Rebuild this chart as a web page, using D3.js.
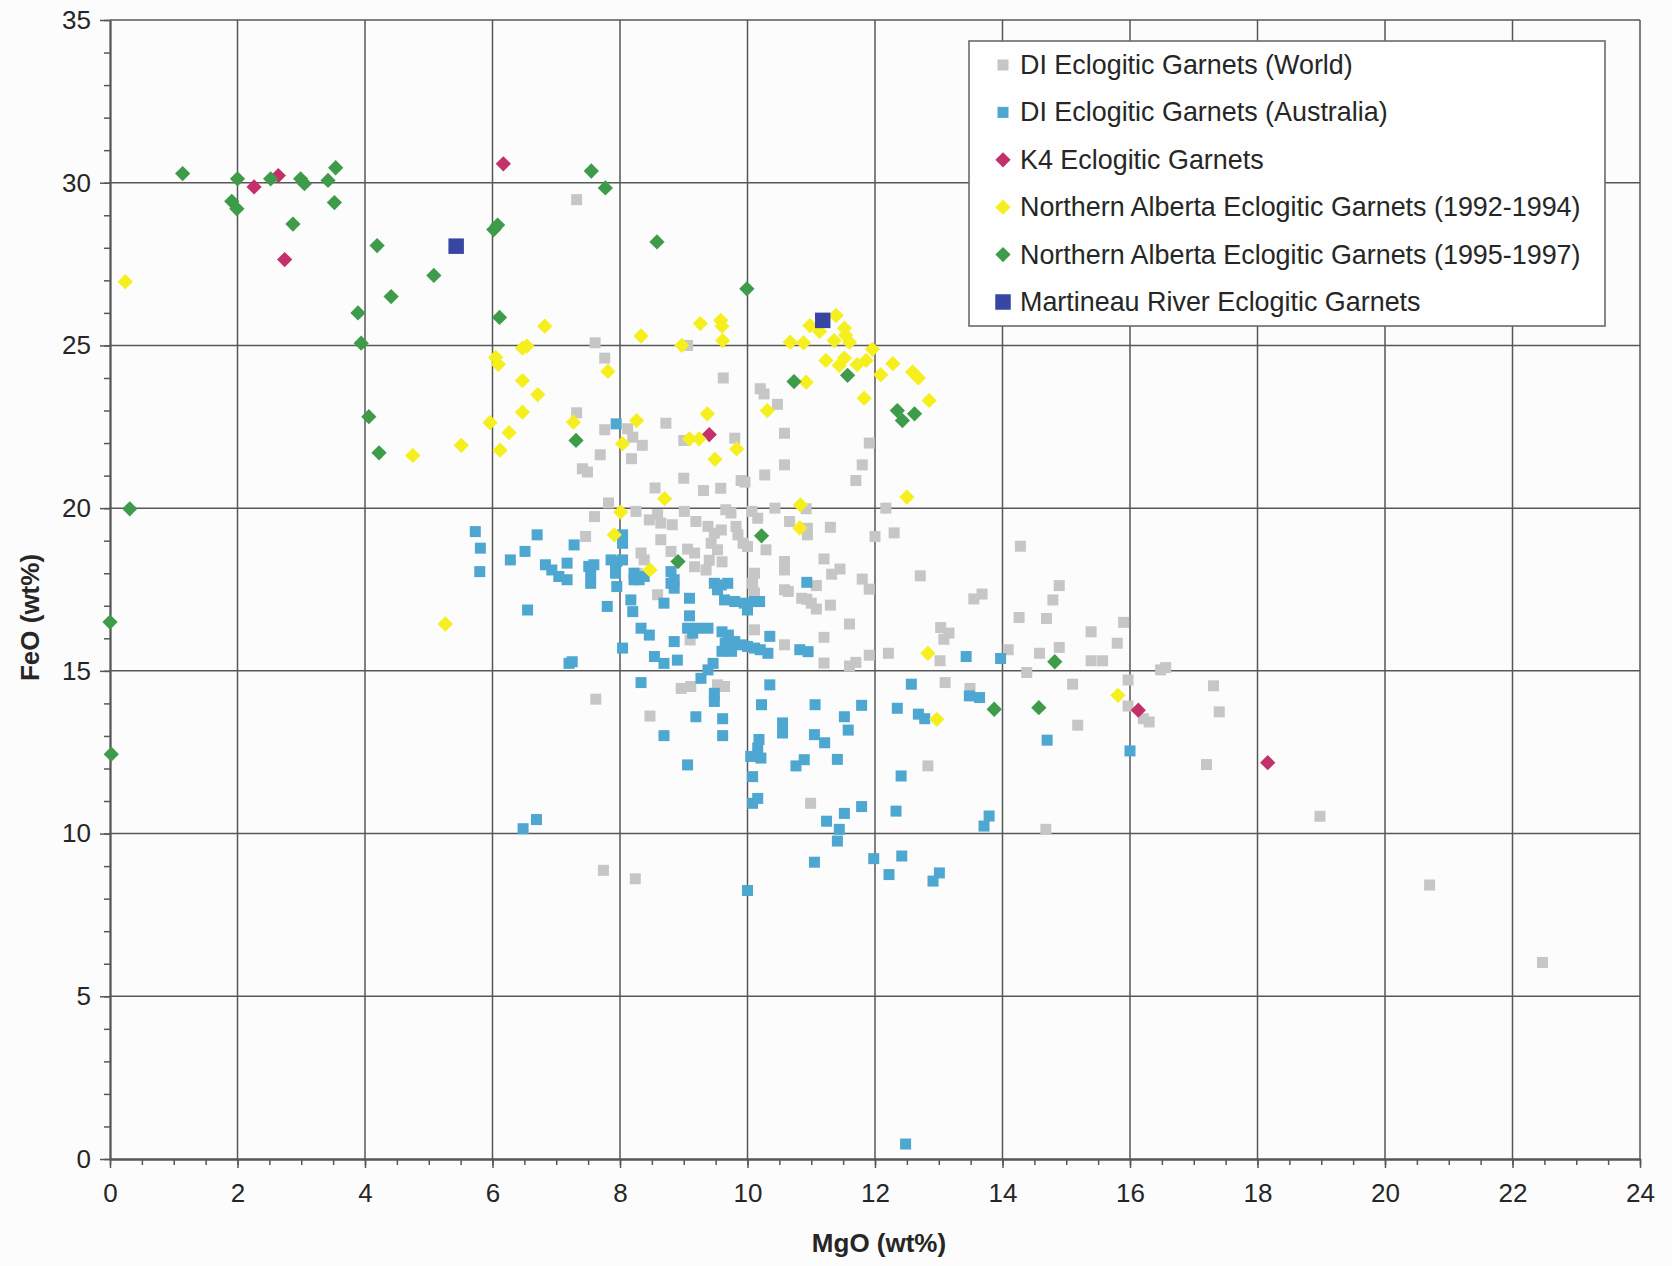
<!DOCTYPE html>
<html>
<head>
<meta charset="utf-8">
<script src="https://cdn.jsdelivr.net/npm/d3@7"></script>
<style>
  html, body { margin: 0; padding: 0; background: #fbfcfb; }
  svg { display: block; font-family: "Liberation Sans", Arial, sans-serif; }
</style>
</head>
<body>
<svg id="chart" width="1672" height="1266"></svg>
<script>
// Garnet compositions, [MgO wt%, FeO wt%]
const diWorld = [
  [7.32,29.48],[7.61,25.08],[7.76,24.61],[9.06,25.0],[9.62,24.0],
  [10.2,23.67],[10.26,23.51],[10.47,23.19],[7.32,22.93],[7.76,22.41],[8.12,22.44],[8.2,22.18],
  [8.35,21.93],[7.69,21.64],[8.18,21.52],[7.41,21.21],[7.49,21.11],[8.72,22.61],[9.0,22.08],
  [9.8,22.15],[10.58,22.3],[10.58,21.33],[10.27,21.02],[9.9,20.85],[9.96,20.8],[9.58,20.61],
  [9.31,20.54],[9.0,20.92],[8.55,20.62],[7.82,20.16],[10.92,19.98],[11.91,22.0],[11.8,21.33],
  [11.7,20.85],[12.17,20.0],[11.3,19.41],[12.0,19.13],[12.3,19.24],[10.94,19.38],[11.2,18.44],
  [11.45,18.13],[11.32,17.97],[11.08,17.62],[11.8,17.82],[11.91,17.51],[12.71,17.92],[10.93,17.2],
  [11.08,16.9],[11.3,17.02],[11.6,16.44],[11.2,16.03],[14.28,18.83],[13.55,17.21],[13.68,17.36],
  [14.89,17.62],[14.79,17.18],[14.26,16.64],[14.69,16.61],[13.03,16.33],[13.16,16.16],[13.08,15.97],
  [15.39,16.2],[15.8,15.85],[15.9,16.49],[14.89,15.72],[14.58,15.54],[15.39,15.31],[15.57,15.31],
  [14.09,15.65],[13.02,15.31],[12.21,15.54],[11.91,15.48],[11.7,15.26],[11.6,15.15],[11.2,15.24],
  [16.56,15.1],[16.48,15.03],[14.38,14.95],[15.97,14.72],[15.1,14.59],[13.1,14.64],[13.49,14.46],
  [15.97,13.92],[16.21,13.53],[16.3,13.43],[15.18,13.33],[12.83,12.08],[10.99,10.93],[14.68,10.13],
  [17.31,14.54],[17.4,13.74],[17.2,12.12],[18.98,10.53],[20.7,8.42],[22.47,6.04],
  [7.6,19.74],[8.25,19.9],[8.46,19.64],[8.64,19.54],[8.82,19.49],[8.59,19.8],[9.01,19.9],
  [9.19,19.59],[9.66,19.95],[9.74,19.85],[10.07,19.9],[10.16,19.69],[10.43,20.0],[10.66,19.59],
  [10.94,19.18],[7.46,19.13],[8.64,19.03],[8.33,18.62],[8.38,18.41],[8.8,18.67],[9.06,18.74],
  [9.17,18.62],[9.38,19.44],[9.48,19.23],[9.59,19.33],[9.43,18.92],[9.53,18.72],[9.82,19.44],
  [9.85,19.18],[9.93,18.92],[10.0,18.82],[10.29,18.72],[10.58,18.36],[10.58,18.1],[10.64,17.44],
  [10.11,18.0],[10.08,17.69],[10.11,17.39],[9.4,18.4],[9.35,18.1],[9.6,18.35],[9.17,18.2],
  [8.27,18.0],[8.59,17.34],[9.1,15.95],[10.58,15.8],[10.85,17.23],[11.0,17.08],[10.58,17.49],
  [10.11,16.26],[8.96,14.46],[9.11,14.52],[9.53,14.57],[9.64,14.52],[7.62,14.13],[8.47,13.61],
  [7.74,8.87],[8.24,8.61]
];

const diAustralia = [
  [7.94,22.59],[8.04,19.18],[8.04,18.92],[5.73,19.28],[5.81,18.77],[5.8,18.05],[6.55,16.87],
  [6.7,19.18],[6.51,18.67],[6.28,18.41],[7.28,18.87],[6.83,18.26],[6.93,18.1],[7.04,17.9],
  [7.17,17.8],[7.17,18.31],[7.51,18.21],[7.54,18.0],[7.54,17.69],[7.59,18.26],[7.86,18.41],
  [7.95,18.36],[8.04,18.41],[7.93,18.1],[7.93,18.0],[7.95,17.59],[8.22,18.0],[8.3,17.8],
  [8.22,17.8],[8.38,17.9],[8.8,18.05],[8.85,17.8],[8.85,17.54],[8.8,17.69],[8.69,17.08],
  [9.09,17.23],[9.09,16.69],[9.06,16.31],[9.22,16.31],[9.38,16.31],[9.14,16.16],[9.48,17.69],
  [9.59,17.64],[9.69,17.69],[9.53,17.49],[9.64,17.18],[9.8,17.13],[9.95,17.08],[10.11,17.13],
  [10.19,17.13],[10.0,16.87],[9.6,16.2],[9.7,16.1],[9.8,15.9],[9.65,15.85],[9.75,15.7],
  [9.6,15.6],[9.75,15.6],[9.9,15.8],[10.0,15.75],[10.11,15.7],[10.2,15.65],[10.35,16.06],
  [10.32,15.54],[10.82,15.65],[10.95,15.59],[10.93,17.72],[8.85,15.9],[8.54,15.44],[8.69,15.23],
  [8.9,15.33],[8.33,16.31],[8.46,16.1],[8.17,17.18],[8.2,16.82],[7.8,16.98],[8.04,15.7],
  [8.33,14.64],[9.27,14.77],[9.38,15.03],[9.46,15.23],[9.48,14.31],[9.48,14.06],[10.35,14.57],
  [10.22,13.96],[11.06,13.96],[7.2,15.23],[7.25,15.28],[9.19,13.59],[9.61,13.53],[9.61,13.01],
  [8.69,13.01],[9.06,12.11],[10.55,13.4],[10.55,13.09],[11.05,13.04],[10.18,12.89],[10.16,12.63],
  [10.05,12.37],[10.21,12.32],[10.08,11.75],[10.16,11.08],[10.08,10.93],[10.76,12.08],[10.89,12.27],
  [6.69,10.43],[6.48,10.15],[10.0,8.25],[11.05,9.12],[12.57,14.59],[13.48,14.23],[13.64,14.18],
  [12.68,13.67],[12.78,13.53],[12.35,13.85],[11.79,13.94],[11.52,13.59],[11.58,13.18],[11.21,12.79],
  [11.41,12.28],[12.41,11.77],[11.79,10.83],[11.52,10.62],[12.33,10.69],[11.24,10.38],[11.44,10.13],
  [11.41,9.77],[13.79,10.54],[13.71,10.23],[11.98,9.23],[12.42,9.31],[12.22,8.74],[13.01,8.79],
  [12.91,8.54],[14.7,12.87],[16.0,12.54],[13.43,15.44],[13.97,15.38],[12.48,0.46]
];

const k4 = [
  [2.26,29.87],[2.64,30.22],[2.74,27.64],[6.17,30.58],[9.4,22.26],[16.13,13.79],[18.16,12.18]
];

const naEarly = [
  [0.24,26.96],[4.75,21.62],[5.51,21.93],[5.96,22.63],[6.12,21.78],[6.26,22.32],[6.05,24.63],
  [6.09,24.42],[6.47,24.92],[6.54,24.98],[6.47,23.92],[6.71,23.49],[6.47,22.95],[6.82,25.59],
  [8.33,25.29],[9.26,25.67],[9.58,25.77],[9.6,25.59],[9.61,25.15],[8.97,25.0],[7.81,24.2],
  [7.27,22.64],[8.26,22.69],[8.04,21.98],[9.37,22.9],[9.09,22.13],[9.24,22.13],[9.49,21.5],
  [9.83,21.82],[10.92,23.87],[10.31,23.0],[8.7,20.29],[8.01,19.88],[10.83,20.1],[10.82,19.39],
  [7.91,19.18],[8.47,18.1],[11.39,25.92],[10.98,25.61],[11.13,25.43],[10.67,25.1],[10.88,25.08],
  [11.52,25.53],[11.54,25.31],[11.36,25.15],[11.6,25.1],[11.96,24.88],[11.23,24.54],[11.52,24.61],
  [11.44,24.39],[11.72,24.41],[11.86,24.54],[12.09,24.1],[12.28,24.44],[12.59,24.18],[12.68,24.0],
  [11.83,23.38],[12.85,23.31],[12.5,20.34],[12.83,15.54],[12.97,13.51],[15.81,14.25],[5.26,16.44]
];

const naLate = [
  [1.14,30.28],[2.0,30.12],[1.91,29.43],[1.99,29.2],[2.52,30.12],[2.99,30.12],[3.05,29.97],
  [3.42,30.07],[3.54,30.46],[3.52,29.39],[2.87,28.73],[4.19,28.07],[4.41,26.5],[5.08,27.15],
  [3.89,26.0],[3.94,25.07],[6.02,28.56],[6.08,28.7],[6.11,25.86],[7.55,30.36],[7.77,29.84],
  [8.58,28.18],[9.99,26.74],[4.06,22.81],[4.22,21.7],[0.31,19.98],[0.0,16.5],[0.02,12.44],
  [7.31,22.08],[10.73,23.89],[11.57,24.08],[12.35,23.0],[12.43,22.69],[12.62,22.9],[8.91,18.36],
  [10.22,19.15],[14.82,15.28],[13.87,13.82],[14.57,13.87]
];

const martineau = [[5.43,28.05],[11.18,25.77]];

const seriesNames = [
  "DI Eclogitic Garnets (World)",
  "DI Eclogitic Garnets (Australia)",
  "K4 Eclogitic Garnets",
  "Northern Alberta Eclogitic Garnets (1992-1994)",
  "Northern Alberta Eclogitic Garnets (1995-1997)",
  "Martineau River Eclogitic Garnets"
];

const xTicks = [0, 2, 4, 6, 8, 10, 12, 14, 16, 18, 20, 22, 24];
const yTicks = [0, 5, 10, 15, 20, 25, 30, 35];

const series = [
  { name: seriesNames[0], data: diWorld,     shape: "square",  size: 11,   color: "#c6c6c6" },
  { name: seriesNames[1], data: diAustralia, shape: "square",  size: 11,   color: "#4ea7d1" },
  { name: seriesNames[2], data: k4,          shape: "diamond", size: 10.8, color: "#c4306c" },
  { name: seriesNames[3], data: naEarly,     shape: "diamond", size: 10.8, color: "#f6ef1e" },
  { name: seriesNames[4], data: naLate,      shape: "diamond", size: 10.8, color: "#3e9b49" },
  { name: seriesNames[5], data: martineau,   shape: "square",  size: 15.5, color: "#3846a2" }
];

const svg = d3.select("#chart");
const plotLeft = 110, plotRight = 1640, plotTop = 20, plotBottom = 1159;

const x = d3.scaleLinear().domain([0, 24]).range([plotLeft, plotRight]);
const y = d3.scaleLinear().domain([0, 35]).range([plotBottom, plotTop]);

const gridColor = "#575757";
const textColor = "#262626";

// grid
const grid = svg.append("g");
grid.selectAll("line.v").data(xTicks.filter(d => d > 0)).join("line")
  .attr("x1", d => x(d)).attr("x2", d => x(d))
  .attr("y1", y(0)).attr("y2", y(35))
  .attr("stroke", gridColor).attr("stroke-width", 1.5);
grid.selectAll("line.h").data(yTicks.filter(d => d > 0)).join("line")
  .attr("x1", x(0)).attr("x2", x(24))
  .attr("y1", d => y(d)).attr("y2", d => y(d))
  .attr("stroke", gridColor).attr("stroke-width", 1.5);

// axes: minor and major ticks
function styleAxis(g) {
  g.select(".domain").attr("stroke", gridColor).attr("stroke-width", 1.8);
  g.selectAll(".tick line").attr("stroke", gridColor).attr("stroke-width", 1.5);
  g.selectAll("text").attr("fill", textColor).attr("font-size", 26)
    .attr("font-family", "'Liberation Sans', Arial, sans-serif");
}

const xMinor = svg.append("g").attr("transform", `translate(0,${plotBottom})`)
  .call(d3.axisBottom(x).tickValues(d3.range(0, 24.01, 0.5)).tickSize(6).tickFormat("").tickSizeOuter(0));
styleAxis(xMinor);
const xMajor = svg.append("g").attr("transform", `translate(0,${plotBottom})`)
  .call(d3.axisBottom(x).tickValues(xTicks).tickSize(9).tickPadding(16).tickFormat(d3.format("d")).tickSizeOuter(0));
styleAxis(xMajor);

const yMinor = svg.append("g").attr("transform", `translate(${plotLeft},0)`)
  .call(d3.axisLeft(y).tickValues(d3.range(0, 35.01, 1)).tickSize(6).tickFormat("").tickSizeOuter(0));
styleAxis(yMinor);
const yMajor = svg.append("g").attr("transform", `translate(${plotLeft},0)`)
  .call(d3.axisLeft(y).tickValues(yTicks).tickSize(10).tickPadding(9).tickFormat(d3.format("d")).tickSizeOuter(0));
styleAxis(yMajor);

// axis titles
svg.append("text")
  .attr("x", (x(0) + x(24)) / 2 + 4).attr("y", 1252)
  .attr("text-anchor", "middle").attr("font-weight", "bold").attr("font-size", 26)
  .attr("fill", textColor).text("MgO (wt%)");
svg.append("text")
  .attr("transform", `translate(39,${(y(0) + y(35)) / 2 + 28}) rotate(-90)`)
  .attr("text-anchor", "middle").attr("font-weight", "bold").attr("font-size", 26)
  .attr("fill", textColor).text("FeO (wt%)");

// markers: squares, and squares turned 45° for diamonds
function marker(sel, s) {
  sel.attr("d", d3.symbol().type(d3.symbolSquare).size(s.size * s.size)());
}
function place(s, px, py) {
  return s.shape === "diamond"
    ? `translate(${px},${py}) rotate(45)`
    : `translate(${px},${py})`;
}

const plot = svg.append("g");
series.forEach(s => {
  plot.append("g").selectAll("path").data(s.data).join("path")
    .call(marker, s)
    .attr("transform", d => place(s, x(d[0]), y(d[1])))
    .attr("fill", s.color);
});

// legend
const lg = svg.append("g");
lg.append("rect")
  .attr("x", 969).attr("y", 41).attr("width", 636).attr("height", 285)
  .attr("fill", "#fdfefd").attr("stroke", "#6a6a6a").attr("stroke-width", 1.6);
series.forEach((s, i) => {
  const cy = 65 + i * 47.4;
  lg.append("path").call(marker, s)
    .attr("transform", place(s, 1003, cy))
    .attr("fill", s.color);
  lg.append("text")
    .attr("x", 1020).attr("y", cy + 9)
    .attr("font-size", 26.9).attr("fill", textColor)
    .text(s.name);
});
</script>
</body>
</html>
